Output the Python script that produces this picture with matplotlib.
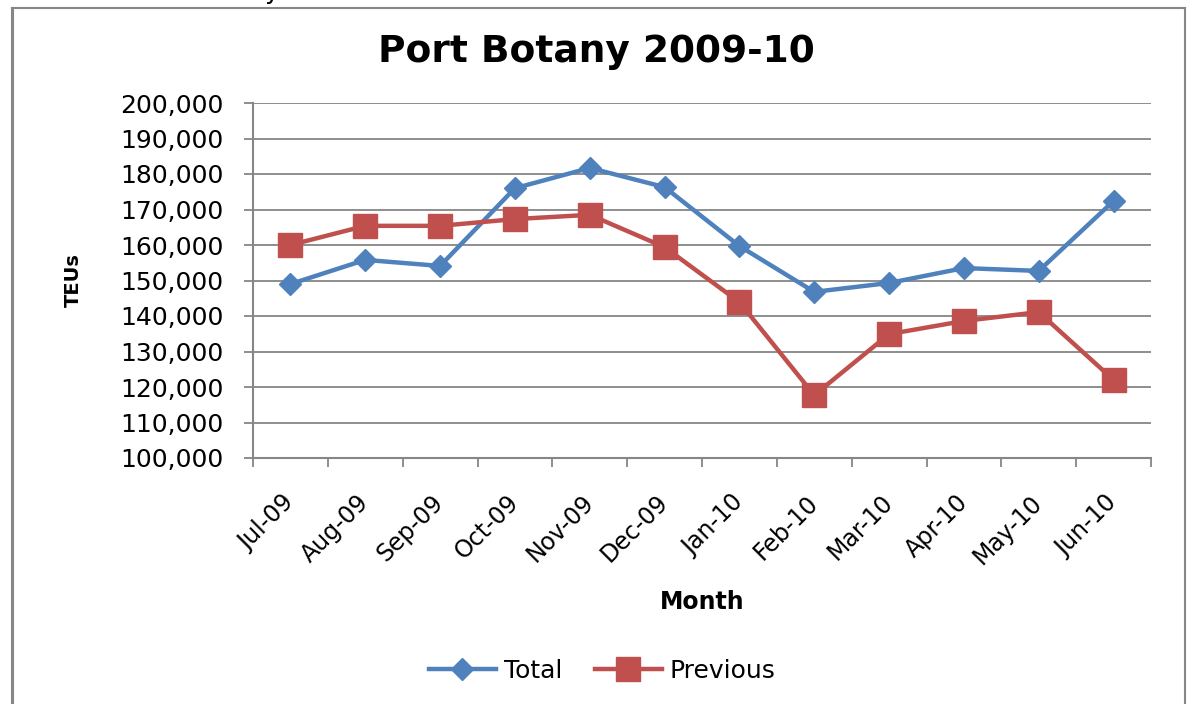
import matplotlib
matplotlib.use("Agg")
import matplotlib.pyplot as plt
from matplotlib.lines import Line2D
from matplotlib.ticker import FuncFormatter, FixedLocator

plt.rcParams["font.family"] = ["DejaVu Sans"]

months = ["Jul-09", "Aug-09", "Sep-09", "Oct-09", "Nov-09", "Dec-09",
          "Jan-10", "Feb-10", "Mar-10", "Apr-10", "May-10", "Jun-10"]
total = [149000, 155800, 154100, 176000, 181700, 176300,
         159700, 146800, 149300, 153500, 152700, 172400]
previous = [160000, 165400, 165400, 167300, 168500, 159400,
            143900, 117700, 134900, 138600, 141100, 122000]

W, H = 1192, 704
blue = "#4F81BD"
red = "#C0504D"
grey = "#868686"

fig = plt.figure(figsize=(W / 100, H / 100), dpi=100)
ax = fig.add_axes([253 / W, 1 - 458 / H, 898 / W, 355 / H])

x = list(range(len(months)))
ax.plot(x, total, color=blue, lw=3.2, marker="D", ms=11, label="Total")
ax.plot(x, previous, color=red, lw=3.2, marker="s", ms=17, label="Previous")

ax.set_xlim(-0.5, len(months) - 0.5)
ax.set_ylim(100000, 200000)
ax.set_yticks(range(100000, 200001, 10000))
ax.yaxis.set_major_formatter(FuncFormatter(lambda v, p: f"{int(v):,}"))
ax.grid(axis="y", color=grey, lw=1.3)
ax.set_axisbelow(True)

# category boundaries get the tick marks, labels sit at the centres
ax.xaxis.set_major_locator(FixedLocator([i - 0.5 for i in range(len(months) + 1)]))
ax.xaxis.set_major_formatter(FuncFormatter(lambda v, p: ""))
ax.xaxis.set_minor_locator(FixedLocator(x))
ax.set_xticklabels(months, minor=True, rotation=45, ha="right", va="center",
                   rotation_mode="anchor", fontsize=17)
ax.tick_params(axis="x", which="major", length=6.5, width=1.3, color=grey)
ax.tick_params(axis="x", which="minor", length=0, pad=29.5)
ax.tick_params(axis="y", length=6.5, width=1.3, color=grey, pad=15, labelsize=18)

for s in ["top", "right"]:
    ax.spines[s].set_visible(False)
for s in ["left", "bottom"]:
    ax.spines[s].set_color(grey)
    ax.spines[s].set_linewidth(1.5)

ax.set_xlabel("Month", fontsize=17, fontweight="bold")
ax.xaxis.set_label_coords(0.5, -0.372)
ax.set_ylabel("TEUs", fontsize=14, fontweight="bold")
ax.yaxis.set_label_coords(-0.189, 0.5)

fig.text(0.5, 1 - 62 / H, "Port Botany 2009-10", ha="center", va="baseline",
         fontsize=27, fontweight="bold")
fig.text(272 / W, 1 + 1 / H, "y", ha="center", va="baseline", fontsize=18)

fig.legend(loc="center", bbox_to_anchor=(602 / W, 1 - 671 / H), ncol=2,
           frameon=False, fontsize=18, handlelength=2.7, handletextpad=0.3,
           columnspacing=1.3)

# outer chart border
fig.add_artist(Line2D([11.5 / W, 11.5 / W], [0, 1 - 7.5 / H], color=grey, lw=2.2,
                      transform=fig.transFigure))
fig.add_artist(Line2D([11.5 / W, 1185 / W], [1 - 7.5 / H, 1 - 7.5 / H], color=grey,
                      lw=1.5, transform=fig.transFigure))
fig.add_artist(Line2D([1185 / W, 1185 / W], [0, 1 - 7.5 / H], color=grey, lw=1.5,
                      transform=fig.transFigure))

fig.savefig("out.png", dpi=100)
